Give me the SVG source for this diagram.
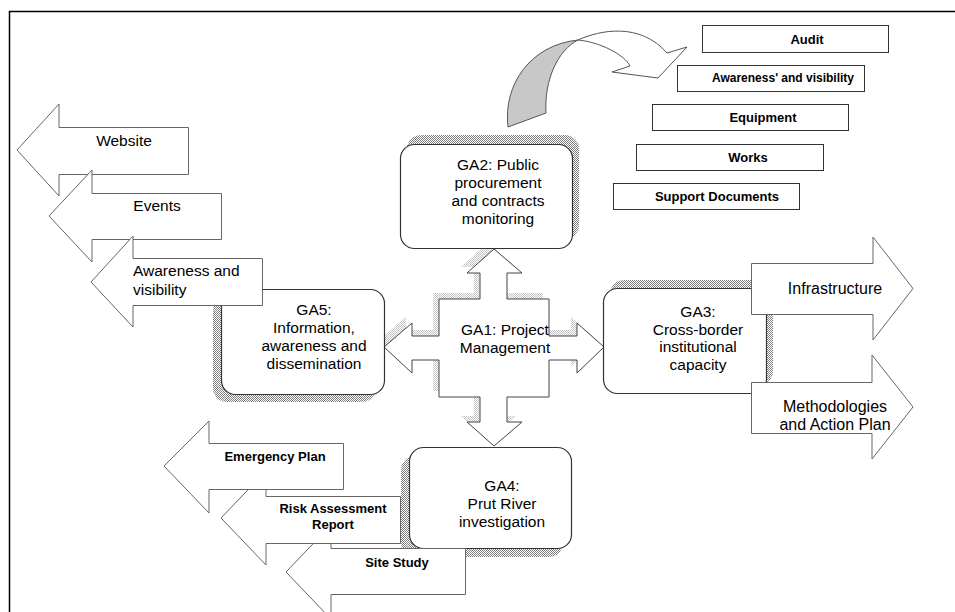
<svg xmlns="http://www.w3.org/2000/svg" width="955" height="612" viewBox="0 0 955 612">
<defs>
<pattern id="dither" width="2" height="2" patternUnits="userSpaceOnUse">
<rect width="2" height="2" fill="#ffffff"/>
<rect width="1" height="1" fill="#808080"/>
<rect x="1" y="1" width="1" height="1" fill="#808080"/>
</pattern>
<pattern id="dlight" width="2" height="2" patternUnits="userSpaceOnUse">
<rect width="2" height="2" fill="#ffffff"/>
<rect width="1" height="1" fill="#c4c4c4"/>
<rect x="1" y="1" width="1" height="1" fill="#c4c4c4"/>
</pattern>
</defs>
<style>
text{font-family:"Liberation Sans",Arial,sans-serif;fill:#000}
.big{font-size:15.5px}
.lab{font-size:16px}
.bold{font-size:13px;font-weight:bold}
.arrow{fill:#fff;stroke:#666;stroke-width:1}
.box{fill:#fff;stroke:#333;stroke-width:1.2}
.rect{fill:#fff;stroke:#333;stroke-width:1}
.shadow{fill:url(#dither)}
.c{text-anchor:middle}
</style>
<rect width="955" height="612" fill="#fff"/>
<path d="M9.5,612 V11.5 H955" fill="none" stroke="#000" stroke-width="1.5"/>

<g id="connectors">
<g id="ga1-cross">
<polygon transform="translate(-6,-6)" fill="url(#dlight)" points="494,249 522,273 507,273 507,299 549,299 549,336 577,336 577,323 604,347 577,373 577,360 549,360 549,397 507,397 507,422 522,422 494,446 467,422 480,422 480,397 439,397 439,360 412,360 412,373 384,347 412,323 412,336 439,336 439,299 480,299 480,273 467,273"/>
<polygon fill="#fff" stroke="#444" stroke-width="1" points="494,249 522,273 507,273 507,299 549,299 549,336 577,336 577,323 604,347 577,373 577,360 549,360 549,397 507,397 507,422 522,422 494,446 467,422 480,422 480,397 439,397 439,360 412,360 412,373 384,347 412,323 412,336 439,336 439,299 480,299 480,273 467,273"/>
<text class="big c" x="505" y="335">GA1: Project</text>
<text class="big c" x="505" y="353">Management</text>
</g>
<g id="curved-arrow">
<path d="M508,127 C503,85 530,45 578,40 C558,50 544,80 546,113 Z" fill="#c8c8c8" stroke="#555" stroke-width="1"/>
<path d="M578,40 C600,30 640,22 667,53 L687,47 L658,78 L612,72 L630,66 C625,55 600,42 578,40 Z" fill="#fff" stroke="#555" stroke-width="1"/>
</g>
</g>

<g id="ga2">
<rect class="shadow" x="407" y="135" width="172" height="104" rx="14"/>
<rect class="box" x="400.5" y="144.5" width="172" height="104" rx="14"/>
<text class="big c" x="498" y="170">GA2: Public</text>
<text class="big c" x="498" y="188">procurement</text>
<text class="big c" x="498" y="206">and contracts</text>
<text class="big c" x="498" y="224">monitoring</text>
</g>

<g id="ga3">
<rect class="shadow" x="610" y="280" width="163" height="105" rx="14"/>
<rect class="box" x="603.5" y="288.5" width="163" height="105" rx="14"/>
<text class="big c" x="698" y="317">GA3:</text>
<text class="big c" x="698" y="335">Cross-border</text>
<text class="big c" x="698" y="352">institutional</text>
<text class="big c" x="698" y="370">capacity</text>
</g>

<g id="ga5">
<rect class="shadow" x="213" y="297" width="163" height="105" rx="14"/>
<rect class="box" x="221.5" y="289.5" width="163" height="105" rx="14"/>
<text class="big c" x="314" y="315">GA5:</text>
<text class="big c" x="314" y="333">Information,</text>
<text class="big c" x="314" y="351">awareness and</text>
<text class="big c" x="314" y="369">dissemination</text>
</g>

<g id="ga4">
<rect class="shadow" x="401" y="456" width="162" height="101" rx="14"/>
<rect class="box" x="409.5" y="447.5" width="162" height="101" rx="14"/>
<text class="big c" x="502" y="491">GA4:</text>
<text class="big c" x="502" y="509">Prut River</text>
<text class="big c" x="502" y="527">investigation</text>
</g>

<g id="website">
<polygon class="arrow" points="17,150 59,104 59,127.5 188.5,127.5 188.5,174.5 59,174.5 59,196"/>
<text class="big c" x="124" y="146">Website</text>
</g>
<g id="events">
<polygon class="arrow" points="49,216 92,170 92,193.5 221.5,193.5 221.5,239.5 92,239.5 92,262"/>
<text class="big c" x="157" y="211">Events</text>
</g>
<g id="awareness">
<polygon class="arrow" points="91,282 133,236 133,258.5 262.5,258.5 262.5,305.5 133,305.5 133,327"/>
<text class="big" x="133" y="276">Awareness and</text>
<text class="big" x="133" y="295">visibility</text>
</g>

<g id="infrastructure">
<polygon class="arrow" points="751.5,263.5 873,263.5 873,237 913,288.5 873,340 873,314.5 751.5,314.5"/>
<text class="lab c" x="835" y="294">Infrastructure</text>
</g>
<g id="methodologies">
<polygon class="arrow" points="751.5,382.5 872,382.5 872,355 913,407 872,459 872,433.5 751.5,433.5"/>
<text class="lab c" x="835" y="412">Methodologies</text>
<text class="lab c" x="835" y="430">and Action Plan</text>
</g>

<g id="site-study">
<polygon class="arrow" points="286,572 331,525 331,548.5 465.5,548.5 465.5,594.5 331,594.5 331,619"/>
<text class="bold c" x="397" y="567">Site Study</text>
</g>
<g id="risk">
<polygon class="arrow" points="221,518 266,471 266,496.5 400.5,496.5 400.5,543.5 266,543.5 266,565"/>
<text class="bold c" x="333" y="513">Risk Assessment</text>
<text class="bold c" x="333" y="529">Report</text>
</g>
<g id="emergency">
<polygon class="arrow" points="164,466 209,421 209,443.5 343.5,443.5 343.5,489.5 209,489.5 209,513"/>
<text class="bold c" x="275" y="461">Emergency Plan</text>
</g>

<g id="audit">
<rect class="rect" x="702.5" y="25.5" width="186" height="27"/>
<text class="bold c" x="807" y="43.5">Audit</text>
</g>
<g id="awareness-visibility">
<rect class="rect" x="677.5" y="65.5" width="187" height="26"/>
<text class="bold c" x="783" y="82" style="font-size:12px">Awareness' and visibility</text>
</g>
<g id="equipment">
<rect class="rect" x="652.5" y="104.5" width="196" height="26"/>
<text class="bold c" x="763" y="122">Equipment</text>
</g>
<g id="works">
<rect class="rect" x="636.5" y="144.5" width="187" height="26"/>
<text class="bold c" x="748" y="162">Works</text>
</g>
<g id="support">
<rect class="rect" x="613.5" y="183.5" width="186" height="26"/>
<text class="bold c" x="717" y="200.5">Support Documents</text>
</g>
</svg>
